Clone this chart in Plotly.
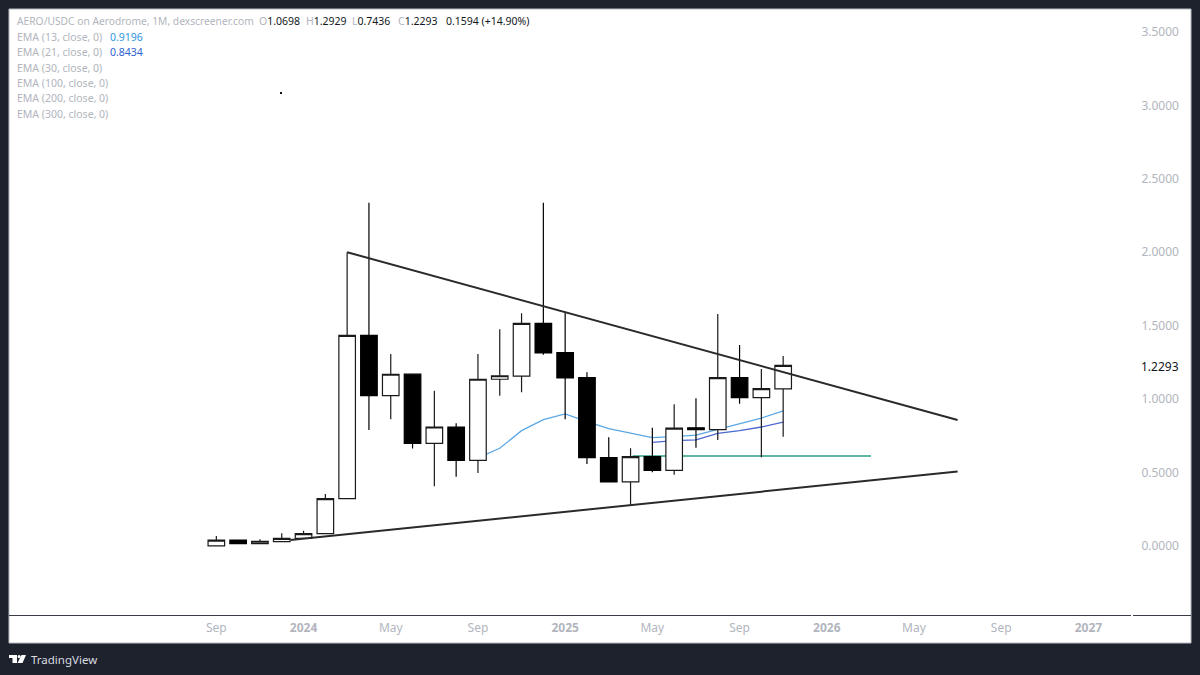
import plotly.graph_objects as go

# monthly candles, Sep 2023 - Nov 2025, x is the bar index like TradingView
opens = [0.0, 0.04, 0.016, 0.029, 0.052, 0.084, 0.322, 1.434, 1.023, 1.17, 0.699, 0.81, 0.583, 1.135,
         1.157, 1.516, 1.316, 1.146, 0.601, 0.436, 0.608, 0.515, 0.805, 0.792, 1.146, 1.01, 1.0698]
highs = [0.068, 0.04, 0.046, 0.086, 0.104, 0.354, 2.0, 2.337, 1.307, 1.17, 1.057, 0.835, 1.307, 1.475,
         1.584, 2.337, 1.595, 1.182, 0.74, 0.665, 0.805, 0.965, 1.005, 1.579, 1.368, 1.205, 1.2929]
lows = [0.0, 0.016, 0.016, 0.029, 0.052, 0.084, 0.322, 0.79, 0.862, 0.663, 0.406, 0.472, 0.497, 1.023,
        1.046, 1.302, 0.862, 0.558, 0.436, 0.279, 0.502, 0.485, 0.669, 0.722, 0.969, 0.604, 0.7436]
closes = [0.04, 0.016, 0.032, 0.052, 0.084, 0.322, 1.434, 1.023, 1.169, 0.699, 0.81, 0.583, 1.135, 1.159,
          1.516, 1.314, 1.144, 0.601, 0.436, 0.608, 0.515, 0.803, 0.792, 1.146, 1.01, 1.071, 1.2293]
bars = list(range(len(opens)))

ema13_x = [12, 13, 14, 15, 16, 17, 18, 19, 20, 21, 22, 23, 24, 25, 26]
ema13 = [0.60, 0.665, 0.785, 0.860, 0.899, 0.846, 0.799, 0.767, 0.737, 0.744, 0.754, 0.794, 0.835, 0.871, 0.9196]
ema21_x = [20, 21, 22, 23, 24, 25, 26]
ema21 = [0.706, 0.717, 0.722, 0.767, 0.785, 0.810, 0.8434]

upper_x = [6, 34]
upper_y = [2.0, 0.858]
lower_x = [3.4, 34]
lower_y = [0.04, 0.507]
support_x = [19.1, 30.03]
support_y = [0.613, 0.613]

x_ticks = [0, 4, 8, 12, 16, 20, 24, 28, 32, 36, 40]
x_labels = ["Sep", "<b>2024</b>", "May", "Sep", "<b>2025</b>", "May", "Sep", "<b>2026</b>", "May", "Sep", "<b>2027</b>"]
y_ticks = [0, 0.5, 1.0, 1.5, 2.0, 2.5, 3.0, 3.5]
y_labels = ["0.0000", "0.5000", "1.0000", "1.5000", "2.0000", "2.5000", "3.0000", "3.5000"]

GREY = "#b2b5be"
DARK = "#1e222d"
FONT = "Noto Sans"
X_RANGE = [-9.51, 42.0]
Y_RANGE = [-0.470, 3.656]


def px(x):
    return x / 1200


def py(y):
    return 1 - y / 675


fig = go.Figure()

# EMAs and the green level sit under the candles
fig.add_trace(go.Scatter(x=support_x, y=support_y, mode="lines", line=dict(color="#2e9e86", width=1.6)))
fig.add_trace(go.Scatter(x=ema13_x, y=ema13, mode="lines", line=dict(color="#5ba8e6", width=1.3)))
fig.add_trace(go.Scatter(x=ema21_x, y=ema21, mode="lines", line=dict(color="#4d68cf", width=1.3)))

fig.add_trace(go.Candlestick(
    x=bars, open=opens, high=highs, low=lows, close=closes,
    xaxis="x2", yaxis="y2", whiskerwidth=0,
    increasing=dict(fillcolor="#ffffff", line=dict(color="#1a1a1a", width=1.2)),
    decreasing=dict(fillcolor="#000000", line=dict(color="#000000", width=1.2)),
))
fig.add_trace(go.Scatter(x=upper_x, y=upper_y, mode="lines", xaxis="x2", yaxis="y2",
                         line=dict(color="#2a2a2a", width=2)))
fig.add_trace(go.Scatter(x=lower_x, y=lower_y, mode="lines", xaxis="x2", yaxis="y2",
                         line=dict(color="#2a2a2a", width=2)))

shapes = [
    dict(type="rect", xref="paper", yref="paper", x0=px(9), x1=px(1191), y0=py(643), y1=py(9),
         fillcolor="#ffffff", line=dict(color="#b8bcc4", width=1), layer="below"),
    dict(type="line", xref="paper", yref="paper", x0=px(9), x1=px(1131), y0=py(615.5), y1=py(615.5),
         line=dict(color="#3a3d46", width=1)),
    dict(type="line", xref="paper", yref="paper", x0=px(1133), x1=px(1191), y0=py(615.5), y1=py(615.5),
         line=dict(color="#3a3d46", width=1)),
    # stray dot on the chart
    dict(type="rect", xref="paper", yref="paper", x0=px(280), x1=px(282), y0=py(94), y1=py(92),
         fillcolor="#111111", line=dict(width=0)),
    # TradingView logo
    dict(type="rect", xref="paper", yref="paper", x0=px(9), x1=px(17), y0=py(658), y1=py(655),
         fillcolor="#ffffff", line=dict(width=0)),
    dict(type="rect", xref="paper", yref="paper", x0=px(12.5), x1=px(17), y0=py(663), y1=py(655),
         fillcolor="#ffffff", line=dict(width=0)),
    dict(type="circle", xref="paper", yref="paper", x0=px(17.6), x1=px(20.6), y0=py(658.2), y1=py(655),
         fillcolor="#ffffff", line=dict(width=0)),
    dict(type="path", xref="paper", yref="paper",
         path=f"M {px(21.5)} {py(655)} L {px(26)} {py(655)} L {px(22.5)} {py(663)} L {px(17.5)} {py(663)} Z",
         fillcolor="#ffffff", line=dict(width=0)),
]

annotations = []


def label(x, y, text, size=10.5, color=GREY, anchor="left"):
    annotations.append(dict(xref="paper", yref="paper", x=px(x), y=py(y), text=text, showarrow=False,
                            xanchor=anchor, yanchor="middle", borderpad=0, align="left",
                            font=dict(family=FONT, size=size, color=color)))


label(15.5, 21, "AERO/USDC on Aerodrome, 1M, dexscreener.com", size=10.25)
for x, name, val in [(258, "O", opens[-1]), (305, "H", highs[-1]), (351, "L", lows[-1]), (397, "C", closes[-1])]:
    label(x, 21, f"{name}<span style='color:#131722'>{val:.4f}</span>")
label(445, 21, "<span style='color:#131722'>0.1594 (+14.90%)</span>")

rows = [("EMA (13, close, 0)", ema13[-1], "#2f96e0"), ("EMA (21, close, 0)", ema21[-1], "#2f5fd0"),
        ("EMA (30, close, 0)", None, None), ("EMA (100, close, 0)", None, None),
        ("EMA (200, close, 0)", None, None), ("EMA (300, close, 0)", None, None)]
for row_y, (name, val, color) in zip([37, 52, 68, 83, 98, 114], rows):
    label(15.5, row_y, name)
    if val is not None:
        label(109, row_y, f"{val:.4f}", color=color)

label(1140, 366, f"{closes[-1]:.4f}", size=12, color="#131722")
label(30, 659, "TradingView", size=11.5, color="#d9dbe0")

axis_font = dict(family=FONT, size=12, color=GREY)
fig.update_layout(
    width=1200, height=675,
    margin=dict(l=0, r=0, t=0, b=0),
    paper_bgcolor=DARK, plot_bgcolor="rgba(0,0,0,0)",
    showlegend=False,
    boxgap=0.24, boxgroupgap=0,
    shapes=shapes, annotations=annotations,
    xaxis=dict(domain=[px(9), px(1132)], range=X_RANGE, tickmode="array", tickvals=x_ticks, ticktext=x_labels,
               tickfont=axis_font, ticks="outside", ticklen=2, tickcolor="rgba(0,0,0,0)",
               showgrid=False, zeroline=False, showline=False, rangeslider=dict(visible=False)),
    yaxis=dict(domain=[py(615), py(9)], range=Y_RANGE, side="right", tickmode="array", tickvals=y_ticks, ticktext=y_labels,
               tickfont=axis_font, ticks="outside", ticklen=6, tickcolor="rgba(0,0,0,0)",
               showgrid=False, zeroline=False, showline=False),
    xaxis2=dict(domain=[px(9), px(1132)], range=X_RANGE, overlaying="x", visible=False, rangeslider=dict(visible=False)),
    yaxis2=dict(domain=[py(615), py(9)], range=Y_RANGE, overlaying="y", visible=False),
)

fig.write_html("out.html", config={"displayModeBar": False},
               post_script=f"document.body.style.margin='0';document.body.style.background='{DARK}';")
